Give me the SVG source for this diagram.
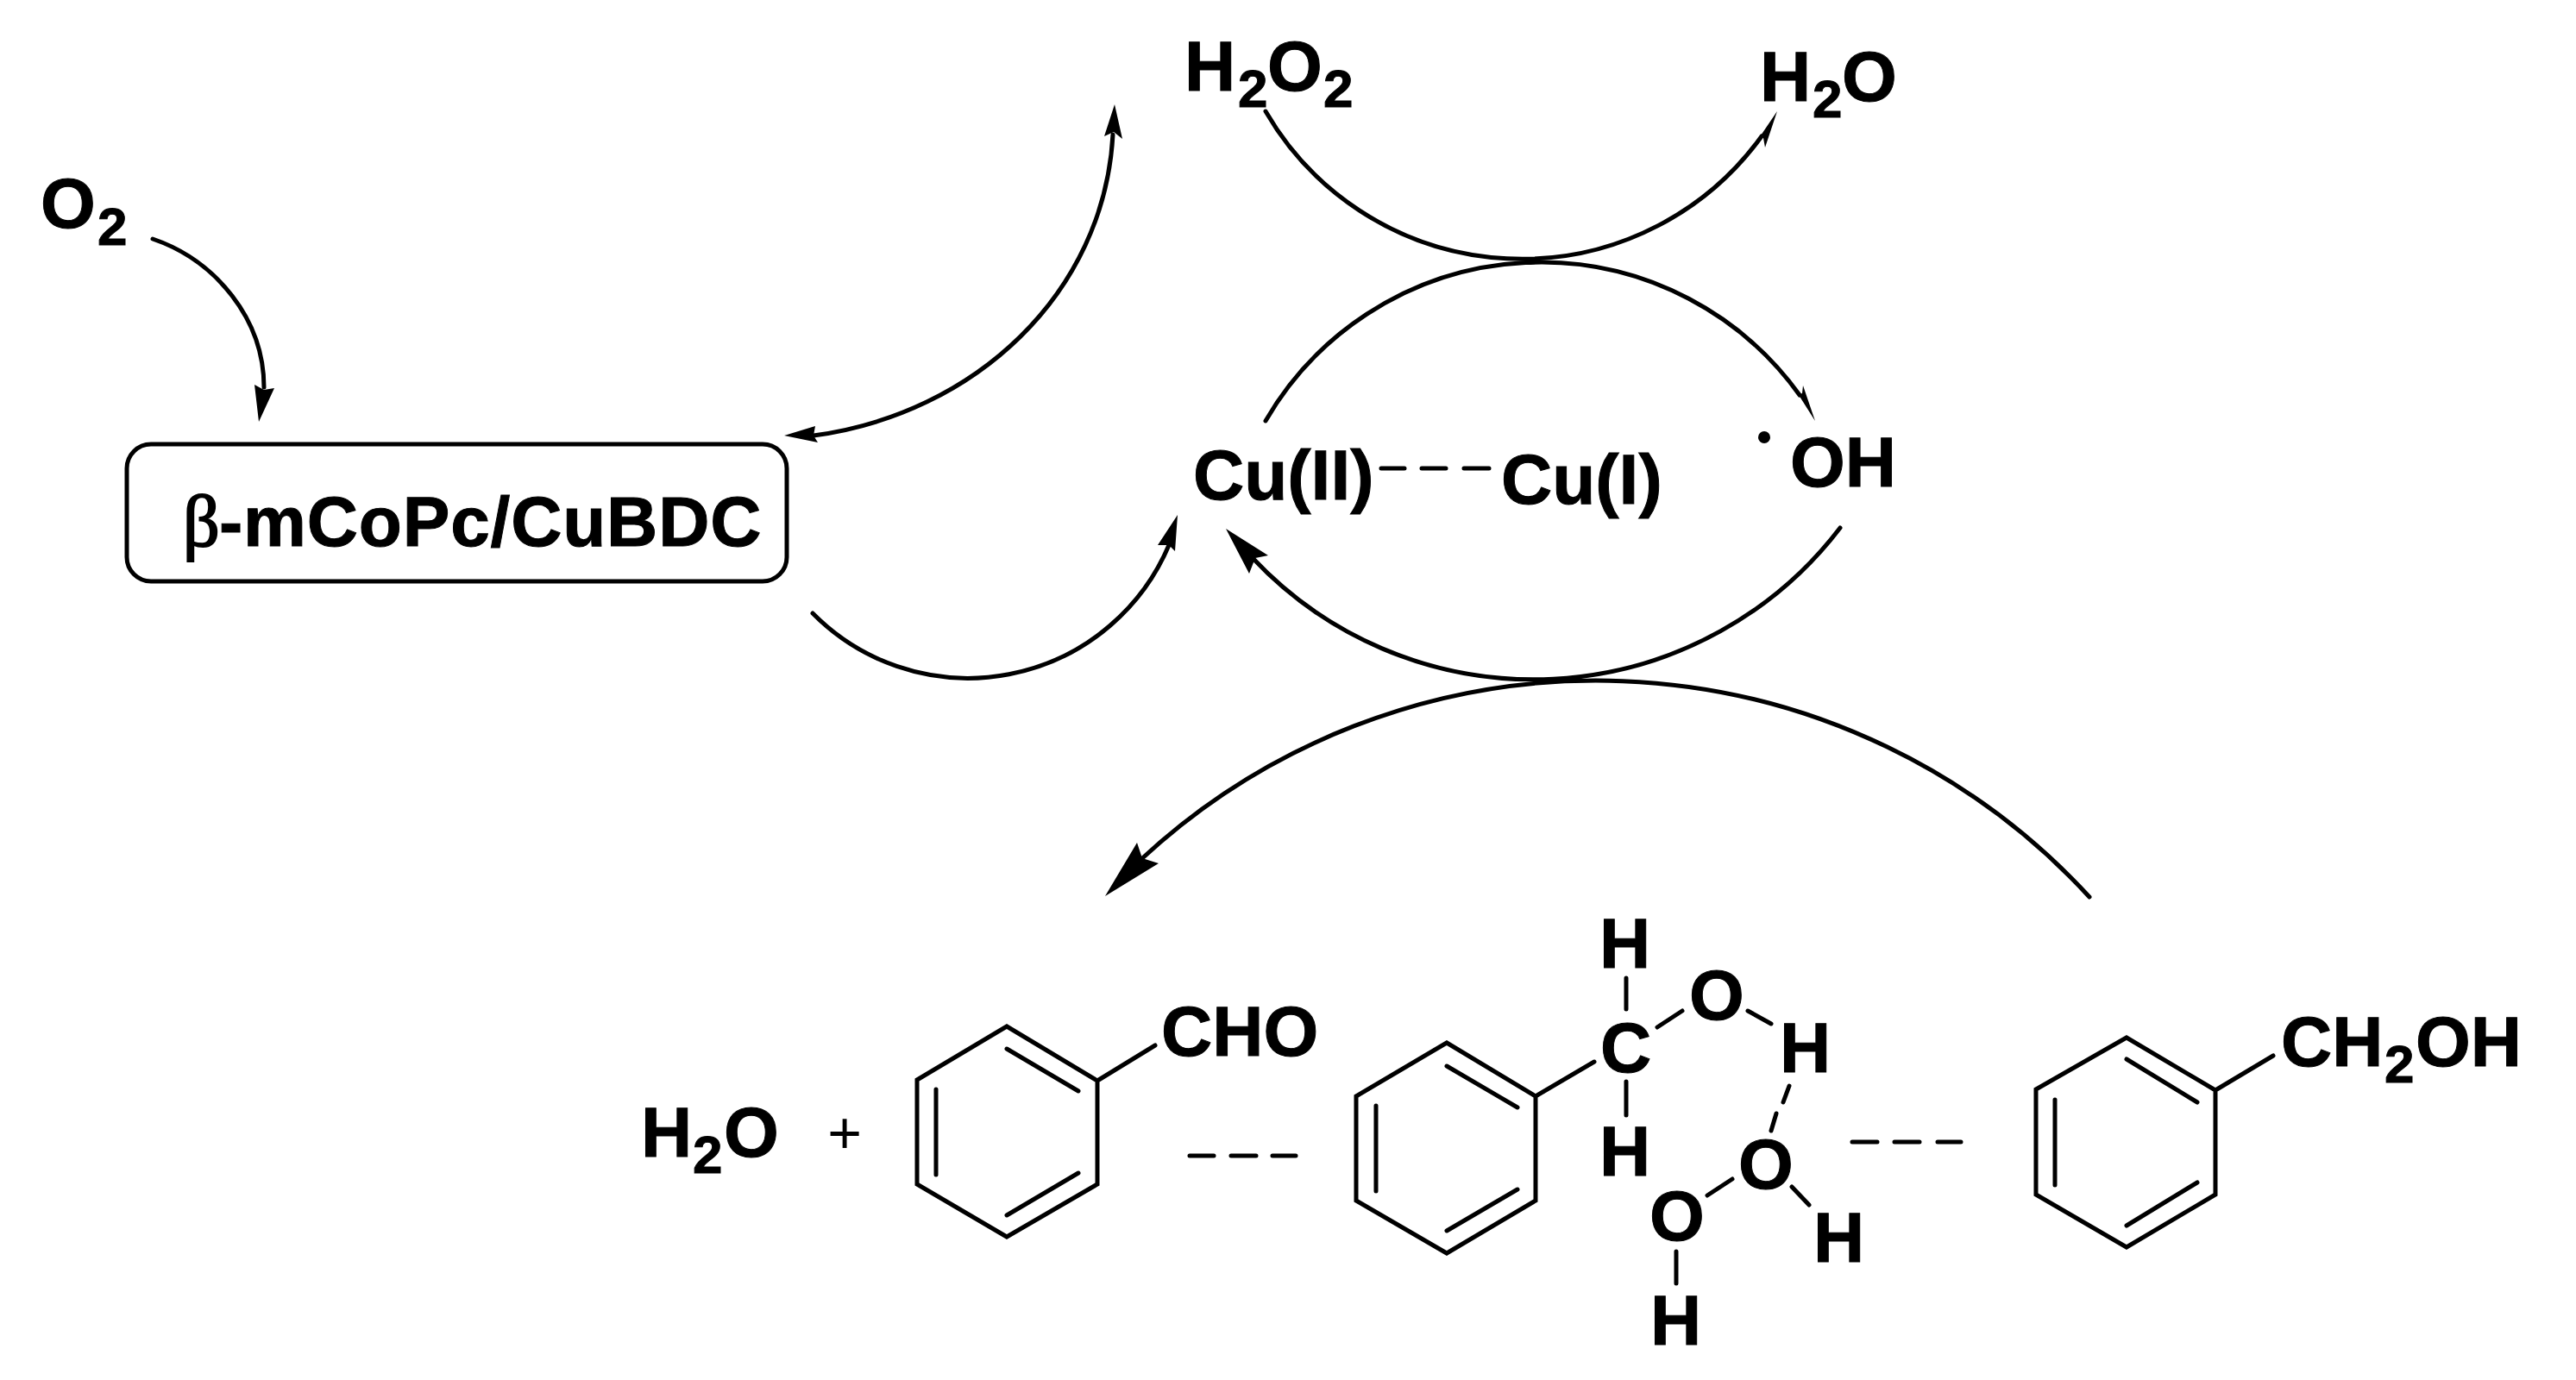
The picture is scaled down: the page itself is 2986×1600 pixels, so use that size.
<svg xmlns="http://www.w3.org/2000/svg" width="2986" height="1600" viewBox="0 0 2986 1600">
<style>
text{font-family:"Liberation Sans",Arial,sans-serif;font-weight:700;font-size:82px;fill:#000;stroke:#000;stroke-width:1}
.s{font-size:62px}
.g{font-family:"Liberation Serif","Times New Roman",serif;font-weight:400;font-size:84px;stroke-width:2}
.p{font-weight:400;font-size:68px;text-anchor:middle;stroke-width:0}
.b{fill:none;stroke:#000;stroke-width:5;stroke-linecap:round;stroke-linejoin:miter}
.a{fill:none;stroke:#000;stroke-width:5;stroke-linecap:round}
.h{fill:#000;stroke:none}
</style>
<rect width="2986" height="1600" fill="#fff"/>
<g id="connectors">
<path class="a" d="M177,277C250,302 306,370 306,449"/><path class="h" d="M300,489L295,446L306,452L318,450Z"/>
<path class="a" d="M943,505C1130,480 1280,340 1290,156"/><path class="h" d="M909,505L945,494L943,505L948,513Z"/><path class="h" d="M1292,121L1280,158L1291,153L1301,161Z"/>
<path class="a" d="M942,711A253,253 0 0 0 1355,632"/><path class="h" d="M1365,597L1342,632L1355,632L1362,639Z"/>
<path class="a" d="M1467,129A343,343 0 0 0 2042,158"/><path class="h" d="M2060,129L2046,171L2044,160L2041,157Z"/>
<path class="a" d="M1467,488A369,369 0 0 1 2086,458"/><path class="h" d="M2104,488L2090,447L2089,456L2085,458Z"/>
<path class="a" d="M2133,612A447,447 0 0 1 1452,647"/><path class="h" d="M1421,613L1470,644L1455,647L1448,665Z"/>
<path class="a" d="M2422,1040A776,776 0 0 0 1322,997"/><path class="h" d="M1281,1039L1318,977L1324,995L1343,1001Z"/>
</g>
<g id="o2"><text><tspan x="47" y="264">O</tspan><tspan class="s" x="113" y="284">2</tspan></text></g>
<g id="catalyst"><rect class="b" x="147" y="515" width="765" height="159" rx="28"/><text x="212" y="633"><tspan class="g">β</tspan><tspan x="254" letter-spacing="0.8">-mCoPc/CuBDC</tspan></text></g>
<g id="h2o2"><text><tspan x="1373" y="105">H</tspan><tspan class="s" x="1435" y="124">2</tspan><tspan x="1469" y="105">O</tspan><tspan class="s" x="1534" y="124">2</tspan></text></g>
<g id="h2o-top"><text><tspan x="2040" y="117">H</tspan><tspan class="s" x="2101" y="136">2</tspan><tspan x="2135" y="117">O</tspan></text></g>
<g id="cu2-cu1"><text x="1383" y="579">Cu(II)</text><path class="b" d="M1601,543H1628M1648,543H1676M1697,543H1726"/><text x="1740" y="584">Cu(I)</text></g>
<g id="oh"><circle cx="2045" cy="507" r="7"/><text x="2075" y="564">OH</text></g>
<g id="h2o-bottom"><text><tspan x="743" y="1341">H</tspan><tspan class="s" x="803" y="1360">2</tspan><tspan x="839" y="1341">O</tspan></text></g>
<g id="plus"><text class="p" x="979" y="1337">+</text></g>
<g id="benzaldehyde"><path class="b" d="M1167,1190L1272,1253V1373L1167,1434L1063,1373V1252ZM1167,1216L1250,1265M1085,1263V1362M1167,1409L1250,1360M1272,1253L1339,1212"/><text x="1346" y="1224">CHO</text></g>
<g id="dash1"><path class="b" d="M1379,1340H1407M1427,1340H1456M1475,1340H1502"/></g>
<g id="intermediate"><path class="b" d="M1677,1209L1780,1271V1392L1677,1453L1572,1392V1271ZM1677,1236L1759,1284M1595,1282V1381M1677,1427L1759,1379M1780,1271L1848,1231"/>
<path class="b" d="M1885,1134V1170M1885,1254V1293M1921,1191L1950,1172M2026,1172L2053,1187M2074,1259L2067,1278M2059,1291L2053,1311M2008,1367L1979,1386M2077,1376L2097,1397M1943,1451V1488"/>
<text x="1854" y="1122">H</text><text x="1855" y="1243">C</text><text x="1854" y="1363">H</text><text x="1958" y="1182">O</text><text x="2063" y="1243">H</text><text x="2015" y="1378">O</text><text x="1912" y="1438">O</text><text x="2102" y="1463">H</text><text x="1913" y="1559">H</text></g>
<g id="dash2"><path class="b" d="M2147,1324H2176M2196,1324H2225M2246,1324H2273"/></g>
<g id="benzyl-alcohol"><path class="b" d="M2465,1203L2568,1264V1385L2465,1446L2360,1385V1263ZM2465,1228L2547,1278M2382,1275V1374M2465,1421L2547,1371M2568,1264L2635,1224"/><text><tspan x="2644" y="1236">CH</tspan><tspan class="s" x="2764" y="1255">2</tspan><tspan x="2800" y="1236">OH</tspan></text></g>
</svg>
